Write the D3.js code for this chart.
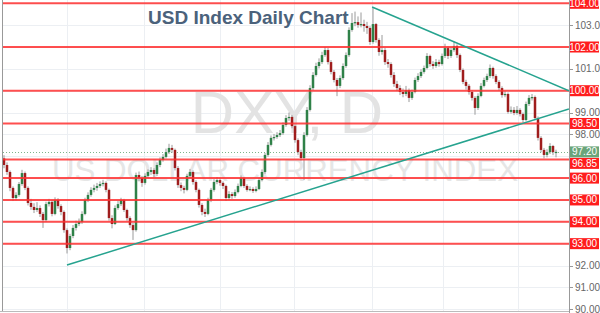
<!DOCTYPE html>
<html>
<head>
<meta charset="utf-8">
<script src="https://cdn.jsdelivr.net/npm/d3@7"></script>
<style>
  html, body { margin: 0; padding: 0; background: #fff; overflow: hidden; }
  svg { display: block; font-family: "Liberation Sans", Arial, sans-serif; }
</style>
</head>
<body>
<svg id="chart" width="600" height="313"></svg>
<script>
// USD Index daily candles

const opens = [
  96.90,96.60,96.28,95.55,95.09,95.23,95.73,96.23,95.55,94.86,
  94.68,94.54,94.63,94.36,94.08,94.81,94.91,94.36,95.00,94.72,
  94.45,93.62,92.80,93.35,93.72,93.90,93.99,94.36,95.00,95.23,
  95.46,95.55,95.64,95.73,95.78,95.46,94.17,93.90,94.63,94.81,
  95.00,94.54,94.17,93.85,93.62,96.14,96.00,95.78,96.10,96.28,
  96.37,96.19,96.60,96.83,96.97,97.19,97.38,97.29,96.46,95.68,
  95.55,95.46,96.10,96.28,95.82,95.46,94.77,94.45,94.36,95.00,
  95.46,95.82,95.91,95.78,95.64,95.09,95.27,95.18,95.36,95.64,
  96.00,95.64,95.46,95.50,95.41,95.50,95.91,96.28,97.06,97.52,
  97.84,97.88,97.97,98.06,98.43,98.75,98.80,98.38,97.74,97.19,
  96.92,97.97,99.12,100.12,100.72,101.13,101.31,101.63,101.86,101.31,
  100.86,100.49,100.22,100.58,101.13,101.63,102.78,103.10,103.14,103.01,
  103.05,102.96,102.87,102.23,103.05,102.32,101.77,101.86,101.31,101.22,
  100.72,100.31,100.12,99.94,99.85,100.03,99.67,99.94,100.49,100.67,
  100.86,101.04,101.59,101.22,101.13,101.31,101.22,101.59,101.95,101.59,
  101.86,102.05,101.63,100.95,100.40,100.22,99.94,99.67,99.21,99.76,
  100.22,100.49,100.67,101.04,100.67,100.40,100.12,99.80,99.85,99.03,
  99.12,98.98,99.12,98.93,98.66,99.39,99.67,99.71,98.75,97.84,
  97.29,97.06,97.19,97.47,97.19
];

const highs = [
  97.05,96.72,96.35,95.62,95.35,95.82,96.38,96.30,95.62,95.05,
  94.85,94.90,94.75,94.45,94.92,95.05,95.00,95.12,95.08,94.80,
  94.52,93.70,93.45,93.85,94.05,94.15,94.48,95.10,95.35,95.58,
  95.70,95.78,95.85,95.92,95.85,95.52,94.30,94.75,94.95,95.10,
  95.05,94.60,94.25,93.95,96.25,96.30,96.10,96.22,96.40,96.50,
  96.45,96.72,96.95,97.10,97.35,97.57,97.52,97.35,96.55,95.80,
  95.65,96.20,96.42,96.35,95.90,95.52,94.85,94.60,95.10,95.55,
  95.95,96.05,96.00,95.85,95.70,95.40,95.36,95.48,95.75,96.12,
  96.05,95.72,95.62,95.58,95.62,96.02,96.40,97.15,97.65,97.95,
  98.02,98.10,98.20,98.55,98.88,99.00,98.88,98.45,97.82,97.30,
  98.10,99.25,100.25,100.85,101.28,101.48,101.78,102.00,101.95,101.40,
  100.95,100.58,100.70,101.25,101.75,102.90,103.55,103.62,103.40,103.58,
  103.25,103.15,102.95,103.82,103.10,102.40,102.55,101.95,101.45,101.30,
  100.85,100.45,100.25,100.10,100.22,100.10,100.05,100.60,100.80,100.98,
  101.15,101.72,101.65,101.35,101.45,101.42,101.70,102.15,102.02,101.98,
  102.25,102.12,101.70,101.02,100.50,100.30,100.02,99.75,99.88,100.35,
  100.60,100.78,101.20,101.10,100.75,100.48,100.20,100.00,99.92,99.28,
  99.25,99.30,99.20,99.00,99.50,99.80,99.85,99.78,98.82,97.92,
  97.38,97.32,97.60,97.52,97.30
];

const lows = [
  96.45,96.15,95.40,94.95,94.98,95.15,95.65,95.45,94.75,94.55,
  94.40,94.45,94.22,93.72,94.00,94.70,94.25,94.30,94.60,94.30,
  93.50,92.55,92.70,93.25,93.60,93.80,93.90,94.30,94.90,95.15,
  95.35,95.42,95.55,95.62,95.35,94.05,93.70,93.85,94.55,94.72,
  94.45,94.05,93.72,93.17,93.55,95.85,95.60,95.70,96.00,96.15,
  96.05,96.10,96.50,96.75,96.90,97.10,97.15,96.35,95.55,95.40,
  95.30,95.40,96.00,95.70,95.35,94.65,94.30,94.22,94.30,94.90,
  95.38,95.72,95.65,95.50,94.95,95.00,95.05,95.10,95.30,95.58,
  95.55,95.38,95.40,95.32,95.35,95.45,95.85,96.20,96.98,97.45,
  97.72,97.80,97.88,97.98,98.35,98.62,98.28,97.62,97.05,96.80,
  95.91,97.90,99.05,100.02,100.65,101.02,101.22,101.55,101.20,100.75,
  100.38,99.75,100.12,100.50,101.05,101.55,102.70,102.95,102.88,102.90,
  102.70,102.60,102.10,102.15,102.20,101.60,101.65,101.18,101.05,100.60,
  100.18,99.98,99.80,99.70,99.75,99.48,99.58,99.88,100.40,100.58,
  100.78,100.98,101.10,101.00,101.05,101.10,101.15,101.50,101.45,101.50,
  101.78,101.50,100.85,100.30,100.05,99.82,99.55,98.90,99.12,99.70,
  100.15,100.40,100.58,100.55,100.30,100.00,99.68,99.70,98.95,98.95,
  98.88,98.90,98.82,98.55,98.60,99.30,99.55,98.65,97.72,97.18,
  96.90,96.95,97.10,97.05,96.95
];

const closes = [
  96.60,96.28,95.55,95.09,95.23,95.73,96.23,95.55,94.86,94.68,
  94.54,94.63,94.36,94.08,94.81,94.91,94.36,95.00,94.72,94.45,
  93.62,92.80,93.35,93.72,93.90,93.99,94.36,95.00,95.23,95.46,
  95.55,95.64,95.73,95.78,95.46,94.17,93.90,94.63,94.81,95.00,
  94.54,94.17,93.85,93.62,96.14,96.00,95.78,96.10,96.28,96.37,
  96.19,96.60,96.83,96.97,97.19,97.38,97.29,96.46,95.68,95.55,
  95.46,96.10,96.28,95.82,95.46,94.77,94.45,94.36,95.00,95.46,
  95.82,95.91,95.78,95.64,95.09,95.27,95.18,95.36,95.64,96.00,
  95.64,95.46,95.50,95.41,95.50,95.91,96.28,97.06,97.52,97.84,
  97.88,97.97,98.06,98.43,98.75,98.80,98.38,97.74,97.19,96.92,
  97.97,99.12,100.12,100.72,101.13,101.31,101.63,101.86,101.31,100.86,
  100.49,100.22,100.58,101.13,101.63,102.78,103.10,103.14,103.01,103.05,
  102.96,102.87,102.23,103.05,102.32,101.77,101.86,101.31,101.22,100.72,
  100.31,100.12,99.94,99.85,100.03,99.67,99.94,100.49,100.67,100.86,
  101.04,101.59,101.22,101.13,101.31,101.22,101.59,101.95,101.59,101.86,
  102.05,101.63,100.95,100.40,100.22,99.94,99.67,99.21,99.76,100.22,
  100.49,100.67,101.04,100.67,100.40,100.12,99.80,99.85,99.03,99.12,
  98.98,99.12,98.93,98.66,99.39,99.67,99.71,98.75,97.84,97.29,
  97.06,97.19,97.47,97.19,97.20
];

// horizontal support / resistance levels (red)
const levels = [104, 102, 100, 98.5, 96.85, 96, 95, 94, 93];
// price axis ticks
const axisTicks = [90, 91, 92, 93, 94, 95, 96, 97, 98, 99, 100, 101, 102, 103, 104];
// candle index where each second month starts (vertical grid)
const monthStarts = [21, 46.7, 72, 96.7, 122.7, 146.3, 171.3];
// trend lines as [candle index, price]
const upperTrend = [[122.7, 103.83], [188.3, 100.0]];
const lowerTrend = [[21, 92.02], [188.3, 99.16]];
const lastPrice = 97.20;

const W = 600, H = 313;
const plotLeft = 3, plotRight = 569, plotBottom = 311;
const tagH = 11;

const svg = d3.select('#chart');

const x = d3.scaleLinear().domain([0, closes.length - 1]).range([4, 556]);
const y = d3.scaleLinear().domain([90, 104]).range([309.2, 3.3]);

svg.append('rect').attr('width', W).attr('height', H).attr('fill', '#fff');

svg.append('defs').append('clipPath').attr('id', 'plot-clip')
  .append('rect')
  .attr('x', plotLeft).attr('y', 0)
  .attr('width', plotRight - plotLeft).attr('height', plotBottom);

const plot = svg.append('g').attr('clip-path', 'url(#plot-clip)');

// grid
plot.append('g').selectAll('line').data(axisTicks).join('line')
  .attr('x1', plotLeft).attr('x2', plotRight)
  .attr('y1', d => Math.round(y(d)) + 0.5).attr('y2', d => Math.round(y(d)) + 0.5)
  .attr('stroke', '#eceff3').attr('stroke-width', 1);

plot.append('g').selectAll('line').data(monthStarts).join('line')
  .attr('x1', d => Math.round(x(d)) + 0.5).attr('x2', d => Math.round(x(d)) + 0.5)
  .attr('y1', 0).attr('y2', plotBottom)
  .attr('stroke', '#eceff3').attr('stroke-width', 1);

// watermark
plot.append('text')
  .attr('x', 287).attr('y', 133)
  .attr('text-anchor', 'middle')
  .attr('font-size', 60)
  .attr('fill', '#e3e3e3')
  .text('DXY, D');

plot.append('text')
  .attr('x', 52).attr('y', 181)
  .attr('font-size', 31)
  .attr('fill', '#e6e6e6')
  .attr('textLength', 466)
  .attr('lengthAdjust', 'spacingAndGlyphs')
  .text('US DOLLAR CURRENCY INDEX');

// last price dotted line
plot.append('line')
  .attr('x1', plotLeft).attr('x2', plotRight)
  .attr('y1', Math.round(y(lastPrice)) + 0.5).attr('y2', Math.round(y(lastPrice)) + 0.5)
  .attr('stroke', '#7fb48c').attr('stroke-width', 1)
  .attr('stroke-dasharray', '1,2');

// candles
const candles = plot.append('g').selectAll('g').data(closes).join('g');

candles.append('line')
  .attr('x1', (d, i) => x(i))
  .attr('x2', (d, i) => x(i))
  .attr('y1', (d, i) => y(highs[i]))
  .attr('y2', (d, i) => y(lows[i]))
  .attr('stroke', '#9a9a9a').attr('stroke-width', 1);

candles.append('rect')
  .attr('x', (d, i) => x(i) - 1.25)
  .attr('width', 2.5)
  .attr('y', (d, i) => y(Math.max(opens[i], d)))
  .attr('height', (d, i) => Math.max(1.2, Math.abs(y(opens[i]) - y(d))))
  .attr('fill', (d, i) => d >= opens[i] ? '#2f8148' : '#9f1d1d');

// red levels
plot.append('g').selectAll('line').data(levels).join('line')
  .attr('x1', plotLeft).attr('x2', plotRight)
  .attr('y1', d => y(d)).attr('y2', d => y(d))
  .attr('stroke', '#ff3030').attr('stroke-width', 2).attr('stroke-opacity', 0.85);

// trend lines
const line = d3.line().x(d => x(d[0])).y(d => y(d[1]));
[upperTrend, lowerTrend].forEach(t => {
  plot.append('path')
    .attr('d', line(t))
    .attr('fill', 'none')
    .attr('stroke', '#26a38f')
    .attr('stroke-width', 1.5);
});

// title
svg.append('text')
  .attr('x', 148).attr('y', 24)
  .attr('font-size', 19)
  .attr('font-weight', 'bold')
  .attr('fill', '#4b627b')
  .text('USD Index Daily Chart');

// frame
svg.append('line')
  .attr('x1', plotLeft - 0.5).attr('x2', plotLeft - 0.5)
  .attr('y1', 0).attr('y2', plotBottom)
  .attr('stroke', '#999');
svg.append('line')
  .attr('x1', plotRight + 0.5).attr('x2', plotRight + 0.5)
  .attr('y1', 0).attr('y2', H)
  .attr('stroke', '#999');
svg.append('line')
  .attr('x1', 0).attr('x2', plotRight)
  .attr('y1', plotBottom + 0.5).attr('y2', plotBottom + 0.5)
  .attr('stroke', '#bbb');

// right price axis
const fmt = d3.format('.2f');
const axis = svg.append('g');
const tagged = levels.concat([lastPrice]);
const freeTicks = axisTicks.filter(t => tagged.every(v => Math.abs(y(t) - y(v)) > 9));

axis.selectAll('line').data(axisTicks).join('line')
  .attr('x1', plotRight).attr('x2', plotRight + 4)
  .attr('y1', d => Math.round(y(d)) + 0.5).attr('y2', d => Math.round(y(d)) + 0.5)
  .attr('stroke', '#999');

axis.selectAll('text').data(freeTicks).join('text')
  .attr('x', plotRight + 6)
  .attr('y', d => y(d) + 3.5)
  .attr('font-size', 10)
  .attr('fill', '#666')
  .text(fmt);

// tag tops; a level tag that would run into the last-price tag is pushed below it
const lastTop = y(lastPrice) - tagH / 2;
function tagTop(v) {
  const top = y(v) - tagH / 2;
  if (Math.abs(top - lastTop) < tagH) return top > lastTop ? lastTop + tagH + 0.5 : lastTop - tagH - 0.5;
  return top;
}

const levelTags = svg.append('g').selectAll('g').data(levels).join('g')
  .attr('transform', d => `translate(${plotRight + 1},${tagTop(d)})`);
levelTags.append('rect')
  .attr('width', 29).attr('height', tagH)
  .attr('fill', '#ff1d1d');
levelTags.append('text')
  .attr('x', 14.5).attr('y', 9)
  .attr('text-anchor', 'middle')
  .attr('font-size', 10)
  .attr('fill', '#fff')
  .text(fmt);

const lastTag = svg.append('g')
  .attr('transform', `translate(${plotRight + 1},${lastTop})`);
lastTag.append('rect')
  .attr('width', 29).attr('height', tagH)
  .attr('fill', '#6aa57a');
lastTag.append('text')
  .attr('x', 14.5).attr('y', 9)
  .attr('text-anchor', 'middle')
  .attr('font-size', 10)
  .attr('fill', '#fff')
  .text(fmt(lastPrice));
</script>
</body>
</html>
